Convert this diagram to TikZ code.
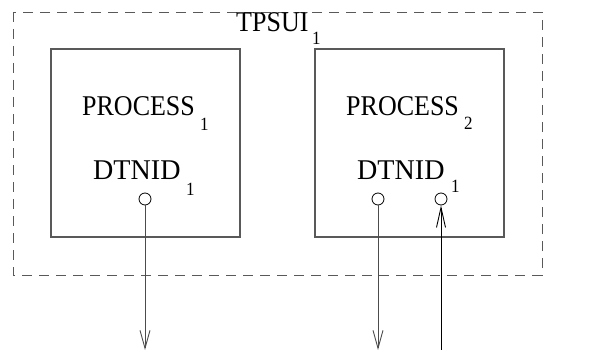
\documentclass[tikz,border=0pt]{standalone}
\usepackage{fontspec}
\setmainfont{Liberation Serif}
\usetikzlibrary{arrows.meta}
\newcommand\mainlbl[2][1]{\scalebox{#1}[1.1]{\fontsize{26}{28}\selectfont #2}}
\newcommand\sublbl[1]{\scalebox{1}[1.1]{\fontsize{17}{19}\selectfont #1}}
\tikzset{
  procbox/.style={draw=black!65, line width=1.1pt},
  sysbox/.style={draw=black!65, line width=0.9pt, dash pattern=on 10pt off 7pt},
  portc/.style={circle, draw=black, line width=0.8pt, minimum size=12pt, inner sep=0pt, fill=white},
  txt/.style={anchor=base west, inner sep=0pt},
  flow/.style={draw=black!70, line width=0.9pt, -{Straight Barb[length=18pt,width=10pt,line width=0.9pt]}},
  flowin/.style={draw=black, line width=0.9pt, -{Straight Barb[length=20pt,width=9pt,line width=0.9pt]}}
}
\begin{document}
\begin{tikzpicture}[x=1pt,y=-1pt]
\useasboundingbox (0,0) rectangle (607,350);
\fill[white] (0,0) rectangle (607,350);
% outer dashed system
\draw[sysbox] (13,12) rectangle (542,275);
\node[txt] (tps) at (236,32) {\mainlbl{TPSUI}};
\node[txt] (tpssub) at (312,45) {\sublbl{1}};
% processes
\draw[procbox] (51,49) rectangle (240,237);
\draw[procbox] (315,49) rectangle (504,237);
\node[txt] (p1) at (82,116) {\mainlbl{PROCESS}};
\node[txt] (p1sub) at (200,130) {\sublbl{1}};
\node[txt] (d1) at (93,179) {\mainlbl[1.08]{DTNID}};
\node[txt] (d1sub) at (186,195) {\sublbl{1}};
\node[txt] (p2) at (346,116) {\mainlbl{PROCESS}};
\node[txt] (p2sub) at (464,129) {\sublbl{2}};
\node[txt] (d2) at (357,179) {\mainlbl[1.08]{DTNID}};
\node[txt] (d2sub) at (451,192) {\sublbl{1}};
% ports
\node[portc] (c1) at (145,199) {};
\node[portc] (c2) at (378,199) {};
\node[portc] (c3) at (441,199) {};
\coordinate (e1) at (145,350);
\coordinate (e2) at (378,350);
\coordinate (e3) at (441,350);
\draw[flow] (c1) -- (e1);
\draw[flow] (c2) -- (e2);
\draw[flowin] (e3) -- (c3);
\end{tikzpicture}
\end{document}
